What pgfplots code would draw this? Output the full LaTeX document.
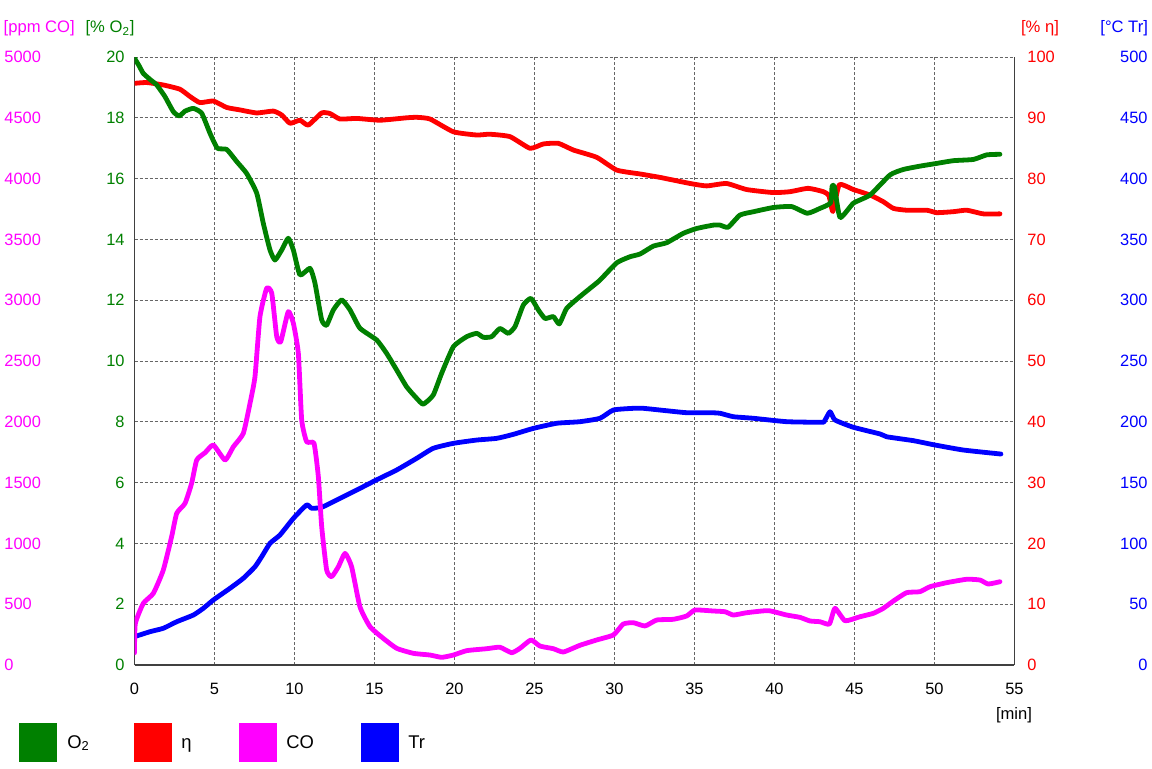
\documentclass[border=0pt]{standalone}
\usepackage{fontspec}
\setmainfont{Liberation Sans}
\usepackage{pgfplots}
\pgfplotsset{compat=1.18}
\definecolor{cO}{RGB}{0,128,0}
\definecolor{cEta}{RGB}{255,0,0}
\definecolor{cCO}{RGB}{255,0,255}
\definecolor{cTr}{RGB}{0,0,255}
\pgfplotsset{
  base/.style={
    at={(67.25pt,51.5pt)}, anchor=south west,
    scale only axis, width=440pt, height=304pt,
    xmin=0, xmax=55,
    major tick length=0pt,
    /pgf/number format/assume math mode=true,
    /pgf/number format/1000 sep={},
    tick label style={font=\fontsize{8.2}{10}\selectfont, inner sep=0pt},
  },
  over/.style={base, xtick=\empty, axis line style={draw=none}},
  curve/.style={line width=2.4pt, line join=round, line cap=round, smooth, tension=0.3},
}
\begin{document}
\begin{tikzpicture}
\useasboundingbox (0,0) rectangle (576pt,384pt);
% Tr axis with grid and frame
\begin{axis}[base,
  ymin=0, ymax=500, ytick={0,50,...,500}, xtick={0,5,...,55},
  axis x line=bottom, axis y line=box,
  axis line style={-, black!75, line width=0.8pt},
  yticklabel pos=right,
  grid=major, grid style={black!60, line width=0.5pt, dash pattern=on 1.5pt off 1pt},
  yticklabel style={anchor=east, xshift=66.75pt, text=cTr},
  xticklabel style={anchor=north, yshift=-9pt},
]
\addplot[curve, cTr] coordinates {
(0,23.3) (0.97,27.4) (1.8,30.2) (2.64,35.6) (3.68,41.1) (4.3,46.6) (4.93,53.5)
(5.97,63.1) (6.8,71.3) (7.53,80.8) (7.95,89.1) (8.47,100.1) (9.09,106.9) (9.93,120.6)
(10.76,131.6) (11.07,128.9) (11.7,129.7) (12.64,135.7) (13.89,143.9) (15.03,151.6)
(16.39,160.4) (17.64,170) (18.67,178.2) (19.93,182.3) (21.39,185) (22.64,186.4)
(23.68,189.7) (24.93,194.6) (26.39,198.8) (27.84,200.1) (29.09,202.9) (29.93,209.7)
(31.18,211.1) (31.8,211.1) (33.26,209.1) (34.51,207.5) (35.97,207.5) (36.6,207)
(37.43,204.2) (38.68,202.9) (40.76,200.1) (42.84,199.6) (43.1,200.1) (43.47,208.3)
(43.78,201.5) (44.93,195.5) (46.6,190) (47.01,187.7) (48.68,184.5) (50,181)
(51.8,176.8) (54.15,173.5)
};
\end{axis}
% CO axis
\begin{axis}[over,
  ymin=0, ymax=5000, ytick={0,500,...,5000},
  yticklabel pos=left,
  yticklabel style={anchor=west, xshift=-65.25pt, text=cCO},
]
\addplot[curve, cCO] coordinates {
(0,100) (0.05,340) (0.55,507) (1.18,590) (1.8,781) (2.32,1055) (2.64,1248)
(3.16,1330) (3.57,1494) (3.89,1686) (4.41,1746) (4.93,1809) (5.66,1686) (6.18,1795)
(6.8,1905) (7.22,2152) (7.53,2371) (7.84,2864) (8.26,3098) (8.58,3057) (8.89,2700)
(9.14,2659) (9.61,2906) (9.93,2810) (10.24,2563) (10.45,2015) (10.76,1836) (11.22,1823)
(11.49,1549) (11.7,1137) (12.01,781) (12.32,726) (12.74,808) (13.16,918) (13.57,808)
(14.09,479) (14.72,315) (15.55,219) (16.39,137) (17.43,96) (18.47,82) (19.2,63)
(19.93,82) (20.76,118) (22.01,134) (22.84,146) (23.57,101) (24.09,137) (24.78,206)
(25.34,156) (26.18,134) (26.8,107) (27.84,162) (28.89,206) (29.93,247) (30.55,337)
(31.18,348) (31.91,321) (32.64,370) (33.68,376) (34.51,403) (35.03,452) (36.18,444)
(36.91,438) (37.43,411) (38.26,430) (39.61,447) (40.76,411) (41.59,392) (42.22,362)
(42.84,356) (43.43,337) (43.78,466) (44.41,364) (45.34,397) (46.18,425) (46.8,466)
(47.43,526) (48.26,595) (49.09,603) (49.72,644) (50.76,677) (52.01,705) (52.84,699)
(53.36,666) (54.09,685)
};
\end{axis}
% eta axis
\begin{axis}[over,
  ymin=0, ymax=100, ytick={0,10,...,100},
  yticklabel pos=right,
  yticklabel style={anchor=west, xshift=6.25pt, text=cEta},
]
\addplot[curve, cEta] coordinates {
(0,95.67) (0.76,95.8) (1.8,95.4) (2.84,94.7) (3.47,93.5) (4.09,92.5) (4.93,92.76)
(5.76,91.7) (6.59,91.3) (7.64,90.8) (8.68,91.1) (9.2,90.46) (9.72,89.1) (10.34,89.6)
(10.86,88.8) (11.7,90.8) (12.22,90.7) (12.84,89.8) (13.89,89.9) (15.34,89.6) (17.01,90.0)
(17.64,90.08) (18.47,89.8) (19.93,87.7) (21.39,87.17) (22.2,87.3) (23.47,86.9)
(24.72,84.98) (25.55,85.7) (26.49,85.8) (27.43,84.7) (28.89,83.5) (30.14,81.4)
(31.6,80.76) (32.84,80.2) (34.72,79.2) (35.76,78.8) (37.0,79.2) (38.26,78.2)
(39.93,77.7) (40.97,77.85) (42.1,78.4) (43.05,77.85) (43.4,77.2) (43.65,74.6)
(44.05,79.0) (44.93,78.2) (45.97,77.3) (46.8,76.2) (47.43,75.1) (48.26,74.8)
(49.51,74.8) (50.14,74.4) (51.18,74.56) (52.01,74.8) (53.05,74.2) (54.09,74.2)
};
\end{axis}
% O2 axis
\begin{axis}[over,
  ymin=0, ymax=20, ytick={0,2,...,20},
  yticklabel pos=left,
  yticklabel style={anchor=east, xshift=-4.75pt, text=cO},
]
\addplot[curve, cO] coordinates {
(0,19.96) (0.3,19.7) (0.55,19.46) (1.0,19.25) (1.39,19.08) (1.9,18.7) (2.43,18.2)
(2.8,18.06) (3.16,18.22) (3.68,18.31) (4.2,18.15) (4.72,17.49) (5.18,17.0) (5.76,16.96)
(6.39,16.56) (7.01,16.17) (7.64,15.52) (8.05,14.53) (8.47,13.65) (8.78,13.32) (9.2,13.65)
(9.61,14.04) (9.93,13.65) (10.34,12.83) (10.97,13.05) (11.28,12.56) (11.7,11.35)
(12.01,11.18) (12.43,11.68) (12.95,12.01) (13.47,11.68) (14.09,11.08) (15.14,10.69)
(15.76,10.25) (16.39,9.70) (17.01,9.15) (17.64,8.77) (18.05,8.58) (18.67,8.88) (19.2,9.6)
(19.93,10.47) (20.76,10.8) (21.39,10.91) (21.8,10.78) (22.32,10.8) (22.84,11.07)
(23.36,10.91) (23.78,11.13) (24.3,11.84) (24.78,12.06) (25.24,11.68) (25.66,11.4)
(26.18,11.46) (26.55,11.22) (27.01,11.73) (27.84,12.12) (28.47,12.39) (29.09,12.66)
(30.14,13.23) (30.97,13.43) (31.6,13.52) (32.43,13.78) (33.26,13.89) (34.3,14.2)
(35.14,14.36) (36.18,14.47) (36.6,14.47) (37.1,14.4) (37.84,14.8) (38.68,14.91)
(39.93,15.05) (41.07,15.08) (42.05,14.86) (42.84,15.02) (43.5,15.2) (43.6,15.75)
(43.75,15.72) (44.1,14.72) (44.93,15.19) (45.97,15.46) (47.22,16.12) (48.05,16.3)
(49.09,16.41) (50.14,16.5) (51.18,16.59) (52.43,16.63) (53.26,16.78) (54.09,16.8)
};
\end{axis}
% unit labels
\begin{scope}[every node/.style={inner sep=0pt, font=\fontsize{8.3}{10}\selectfont}]
\node[anchor=base west, text=cCO] at (1.65pt,367.75pt) {[ppm CO]};
\node[anchor=base east, text=cO] at (67.5pt,367.75pt) {[\% O\textsubscript{2}]};
\node[anchor=base west, text=cEta] at (510.35pt,367.75pt) {[\% η]};
\node[anchor=base east, text=cTr] at (574.15pt,367.75pt) {[°C Tr]};
\node[anchor=base] at (507pt,24.25pt) {[min]};
\end{scope}
% legend
\begin{scope}[every node/.style={inner sep=0pt, anchor=base west, font=\fontsize{9.2}{11}\selectfont}]
\fill[cO] (9.5pt,3pt) rectangle (28.5pt,22.5pt);
\node at (33.5pt,10pt) {O\textsubscript{2}};
\fill[cEta] (67pt,3pt) rectangle (86pt,22.5pt);
\node at (90.5pt,10pt) {η};
\fill[cCO] (119.5pt,3pt) rectangle (138.5pt,22.5pt);
\node at (143pt,10pt) {CO};
\fill[cTr] (180.5pt,3pt) rectangle (199.5pt,22.5pt);
\node at (204pt,10pt) {Tr};
\end{scope}
\end{tikzpicture}
\end{document}
